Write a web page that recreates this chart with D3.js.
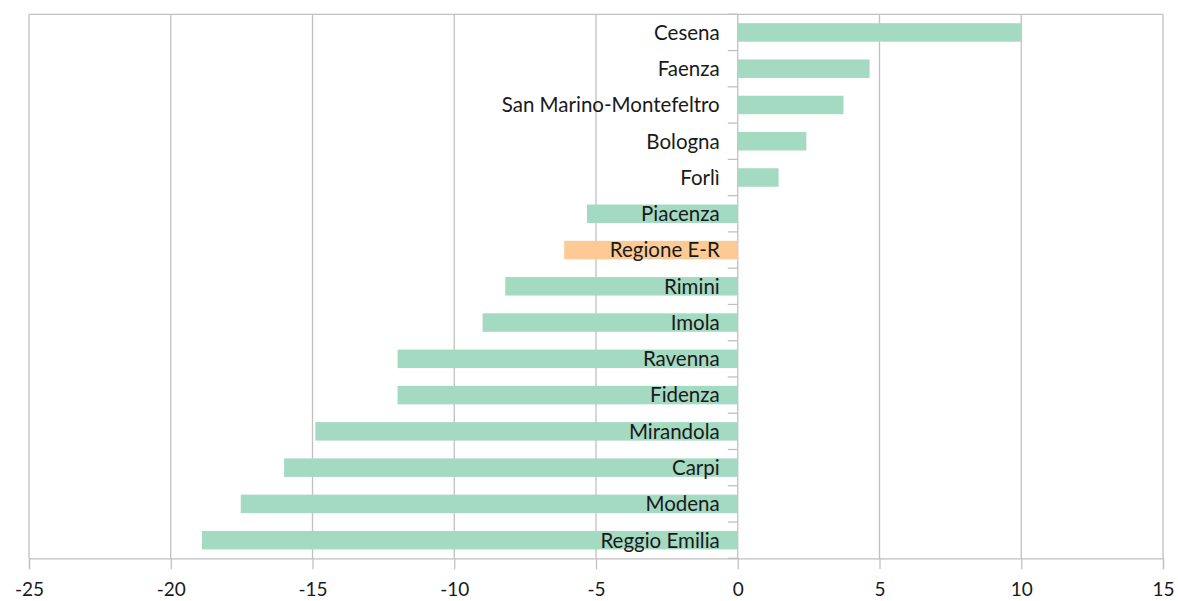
<!DOCTYPE html>
<html>
<head>
<meta charset="utf-8">
<script src="https://cdn.jsdelivr.net/npm/d3@7"></script>
<style>
	body { margin: 0; background: #fff; }
	text { font-family: 'Lato', 'Open Sans', sans-serif; fill: #1a1a1a; }
</style>
</head>
<body>
<svg id="chart"></svg>
<script>
// data
const CATEGORIES = ['Cesena', 'Faenza', 'San Marino-Montefeltro', 'Bologna', 'Forlì',
	'Piacenza', 'Regione E-R', 'Rimini', 'Imola', 'Ravenna', 'Fidenza',
	'Mirandola', 'Carpi', 'Modena', 'Reggio Emilia'];
const VALUES = [10.0, 4.65, 3.73, 2.42, 1.44, -5.32, -6.12, -8.2, -9.0, -12.0, -12.0,
	-14.9, -16.0, -17.53, -18.9];
const HIGHLIGHT = 'Regione E-R';
const X_TICKS = [-25, -20, -15, -10, -5, 0, 5, 10, 15];

const W = 1178, H = 601;
const LEFT = 29, RIGHT = 1163, TOP = 14.3, BOTTOM = 558.3;
const GRID = '#c0c0c0';

var svg = d3.select('#chart').attr('width', W).attr('height', H);

var x = d3.scaleLinear().domain([-25, 15]).range([LEFT, RIGHT]);
var y = d3.scaleBand().domain(CATEGORIES).range([TOP, BOTTOM]).paddingInner(0.49).paddingOuter(0.245);

// grid lines
svg.append('g').selectAll('line')
	.data(X_TICKS)
	.enter()
	.append('line')
	.attr('x1', d => x(d)).attr('x2', d => x(d))
	.attr('y1', TOP).attr('y2', BOTTOM)
	.style('stroke', GRID).style('stroke-width', 1.3);

// top border
svg.append('line')
	.attr('x1', LEFT).attr('x2', RIGHT)
	.attr('y1', TOP).attr('y2', TOP)
	.style('stroke', GRID).style('stroke-width', 1.3);

// bars
svg.append('g').selectAll('rect')
	.data(CATEGORIES)
	.enter()
	.append('rect')
	.attr('x', (d, i) => x(Math.min(0, VALUES[i])))
	.attr('width', (d, i) => Math.abs(x(VALUES[i]) - x(0)))
	.attr('y', d => y(d))
	.attr('height', y.bandwidth())
	.style('fill', d => d == HIGHLIGHT ? '#fdca96' : '#a4d9c2');

// bottom axis
var xAxis = svg.append('g')
	.attr('transform', 'translate(0,' + BOTTOM + ')')
	.call(d3.axisBottom(x).tickValues(X_TICKS).tickSize(11).tickPadding(13).tickFormat(d3.format('d')));
xAxis.select('.domain').style('stroke', GRID).style('stroke-width', 1.3);
xAxis.selectAll('.tick line').style('stroke', GRID).style('stroke-width', 1.3);
xAxis.selectAll('.tick text')
	.style('font-size', '19px')
	.style('font-family', "'Lato', 'Open Sans', sans-serif")
	.style('fill', '#1a1a1a')
	.text(d => d < 0 ? '-' + Math.abs(d) : d);

// category ticks on the zero line
var bounds = d3.range(CATEGORIES.length + 1).map(i => TOP + i * y.step());
svg.append('g').selectAll('line')
	.data(bounds)
	.enter()
	.append('line')
	.attr('x1', x(0) - 10).attr('x2', x(0))
	.attr('y1', d => d).attr('y2', d => d)
	.style('stroke', GRID).style('stroke-width', 1.3);

// category labels
svg.append('g').selectAll('text')
	.data(CATEGORIES)
	.enter()
	.append('text')
	.attr('x', x(0) - 18)
	.attr('y', d => y(d) + y.bandwidth() / 2)
	.attr('dy', '0.36em')
	.attr('text-anchor', 'end')
	.style('font-size', '20.5px')
	.text(d => d);
</script>
</body>
</html>
